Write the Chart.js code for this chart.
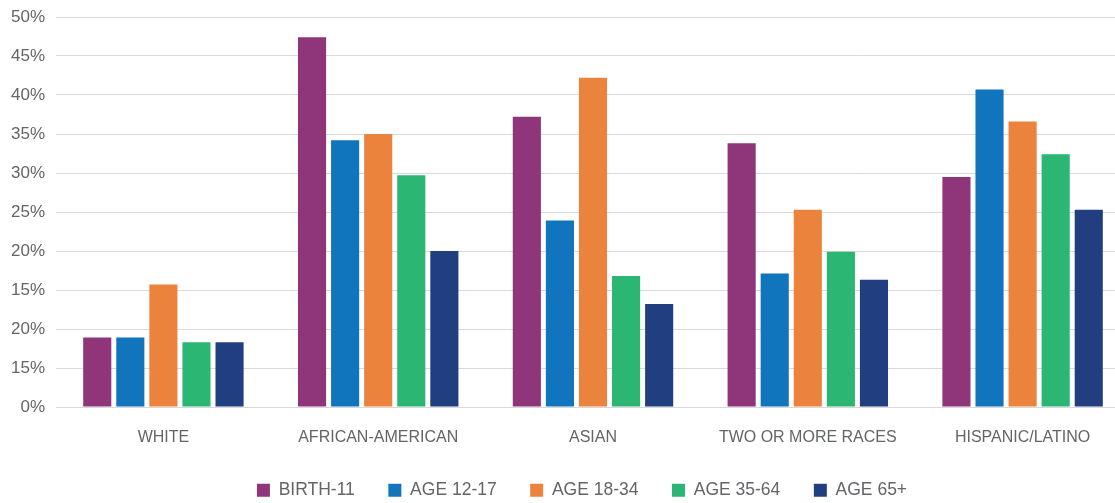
<!DOCTYPE html>
<html lang="en">
<head>
    <meta charset="UTF-8">
    <script src="https://cdn.jsdelivr.net/npm/chart.js"></script>
    <title>Share by race and age group</title>
    <style>
        body { margin: 0; overflow: hidden; background: #fff; }
        #wrap { width: 1130px; height: 509px; }
    </style>
</head>
<body>

    <div id="wrap"><canvas id="myChart"></canvas></div>

    <script>
        const categories = ['WHITE', 'AFRICAN-AMERICAN', 'ASIAN', 'TWO OR MORE RACES', 'HISPANIC/LATINO'];

        const birth11 = [8.9, 47.4, 37.2, 33.8, 29.5];
        const age12to17 = [8.9, 34.2, 23.9, 17.1, 40.7];
        const age18to34 = [15.7, 35.0, 42.2, 25.3, 36.6];
        const age35to64 = [8.3, 29.7, 16.8, 19.9, 32.4];
        const age65plus = [8.3, 20.0, 13.2, 16.3, 25.3];

        // tick labels as printed on the original axis (bottom to top)
        const yTickLabels = ['0%', '15%', '20%', '15%', '20%', '25%', '30%', '35%', '40%', '45%', '50%'];

        const grey = '#646568';

        // nudge the legend a bit to the right, like the original
        const legendShift = {
            id: 'legendShift',
            beforeDraw(chart) {
                chart.legend.left += 17;
                chart.legend.right += 17;
            },
            afterDraw(chart) {
                chart.legend.left -= 17;
                chart.legend.right -= 17;
            }
        };

        const ctx = document.getElementById('myChart').getContext('2d');

        new Chart(ctx, {
            type: 'bar',
            data: {
                labels: categories,
                datasets: [{
                    label: 'BIRTH-11',
                    data: birth11,
                    backgroundColor: '#8e3679',
                }, {
                    label: 'AGE 12-17',
                    data: age12to17,
                    backgroundColor: '#1075bd',
                }, {
                    label: 'AGE 18-34',
                    data: age18to34,
                    backgroundColor: '#ec833c',
                }, {
                    label: 'AGE 35-64',
                    data: age35to64,
                    backgroundColor: '#2bb673',
                }, {
                    label: 'AGE 65+',
                    data: age65plus,
                    backgroundColor: '#213f80',
                }],
            },
            options: {
                responsive: true,
                maintainAspectRatio: false,
                animation: false,
                layout: {
                    padding: { top: 0, bottom: 0, left: 0, right: 0 }
                },
                datasets: {
                    bar: {
                        categoryPercentage: 0.77,
                        barPercentage: 0.85,
                    }
                },
                scales: {
                    x: {
                        grid: { display: false },
                        border: { display: false },
                        ticks: {
                            color: grey,
                            padding: 13,
                            font: { family: 'Liberation Sans', size: 16 },
                        },
                        afterFit(scale) { scale.height = 41; }
                    },
                    y: {
                        min: 0,
                        max: 50,
                        grid: { color: '#d9d9d9', drawTicks: false },
                        border: { display: false },
                        ticks: {
                            stepSize: 5,
                            padding: 11,
                            color: grey,
                            font: { family: 'Liberation Sans', size: 17 },
                            callback: (v) => yTickLabels[Math.round(v / 5)],
                        },
                        afterFit(scale) {
                            scale.width = 56;
                            scale.paddingTop = 17;
                        }
                    }
                },
                plugins: {
                    tooltip: { enabled: false },
                    legend: {
                        position: 'bottom',
                        labels: {
                            boxWidth: 13,
                            boxHeight: 13,
                            padding: 33.5,
                            color: grey,
                            font: { family: 'Liberation Sans', size: 17.5 },
                        }
                    }
                }
            },
            plugins: [legendShift]
        });
    </script>

</body>
</html>
